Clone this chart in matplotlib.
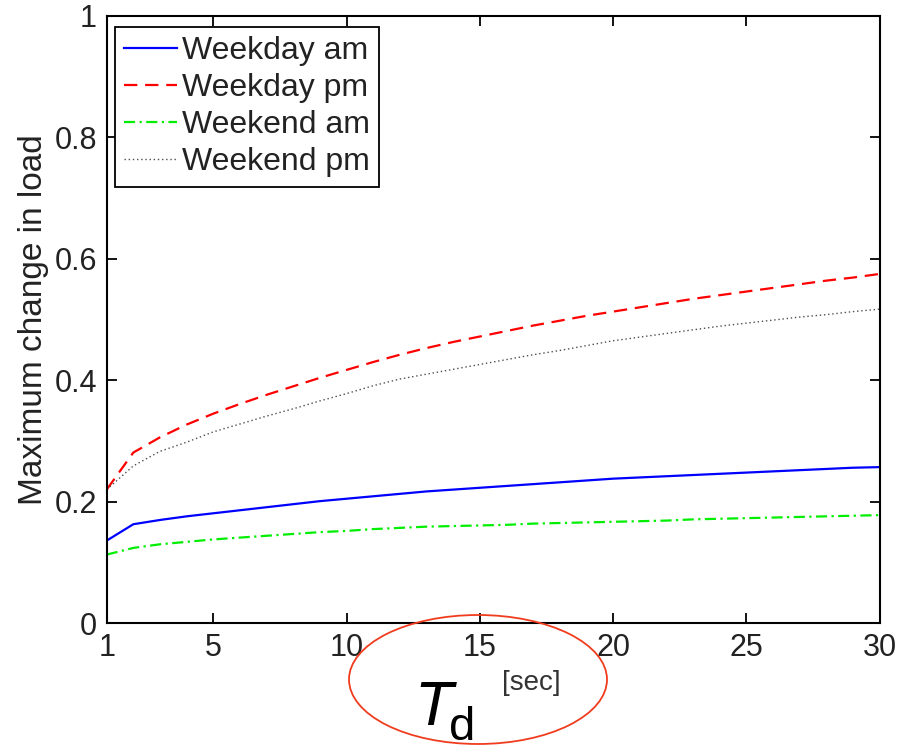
import numpy as np
import matplotlib
matplotlib.use('Agg')
import matplotlib.pyplot as plt
from matplotlib.patches import Ellipse

plt.rcParams['font.family'] = ['Liberation Sans', 'DejaVu Sans']

# detection time window [sec]
td = list(range(1, 31))

weekday_am = [0.136, 0.163, 0.170, 0.176, 0.181, 0.186, 0.191, 0.196, 0.201, 0.205,
              0.209, 0.213, 0.217, 0.220, 0.223, 0.226, 0.229, 0.232, 0.235, 0.238,
              0.240, 0.242, 0.244, 0.246, 0.248, 0.250, 0.252, 0.254, 0.256, 0.257]
weekday_pm = [0.220, 0.281, 0.306, 0.327, 0.345, 0.361, 0.376, 0.390, 0.404, 0.417,
              0.430, 0.442, 0.453, 0.463, 0.472, 0.481, 0.490, 0.498, 0.506, 0.513,
              0.520, 0.527, 0.534, 0.540, 0.546, 0.552, 0.558, 0.564, 0.569, 0.575]
weekend_am = [0.113, 0.124, 0.130, 0.134, 0.138, 0.141, 0.144, 0.147, 0.150, 0.152,
              0.155, 0.157, 0.159, 0.160, 0.161, 0.162, 0.164, 0.165, 0.166, 0.167,
              0.168, 0.169, 0.171, 0.172, 0.173, 0.174, 0.175, 0.176, 0.177, 0.178]
weekend_pm = [0.220, 0.259, 0.283, 0.298, 0.315, 0.328, 0.341, 0.353, 0.366, 0.378,
              0.391, 0.402, 0.410, 0.418, 0.426, 0.434, 0.442, 0.449, 0.457, 0.465,
              0.471, 0.477, 0.483, 0.489, 0.494, 0.499, 0.504, 0.508, 0.513, 0.517]

xticks = [1, 5, 10, 15, 20, 25, 30]
yticks = [0, 0.2, 0.4, 0.6, 0.8, 1]
ytick_labels = ['0', '0.2', '0.4', '0.6', '0.8', '1']

TICK_SIZE = 22

fig = plt.figure(figsize=(9.04, 7.5), dpi=100)
ax = fig.add_axes([0.118, 0.169, 0.855, 0.810])

ax.plot(td, weekday_am, color='#0000ff', lw=1.6, ls='-', label='Weekday am')
ax.plot(td, weekday_pm, color='#ff0000', lw=1.6, ls=(0, (6, 3.5)), label='Weekday pm')
ax.plot(td, weekend_am, color='#00ee00', lw=1.6, ls=(0, (5, 2, 1, 2)), label='Weekend am')
ax.plot(td, weekend_pm, color='0.3', lw=1.0, ls=(0, (1, 2)), label='Weekend pm')

ax.set_xlim(1, 30)
ax.set_ylim(0, 1)
ax.set_xticks(xticks)
ax.set_yticks(yticks)
ax.set_yticklabels(ytick_labels)
ax.tick_params(direction='in', length=7, width=1.3, labelsize=TICK_SIZE,
               top=True, right=True, pad=7, colors='black', labelcolor='#222222')
for sp in ax.spines.values():
    sp.set_linewidth(1.5)

ax.set_ylabel('Maximum change in load', fontsize=24, labelpad=4, color='#222222')

leg = ax.legend(loc='upper left', bbox_to_anchor=(0.0103, 0.982), borderaxespad=0,
                fontsize=23, fancybox=False, framealpha=1, edgecolor='black',
                handlelength=1.65, handletextpad=0.15, labelspacing=0.22,
                borderpad=0.3)
leg.get_frame().set_linewidth(1.3)
for t in leg.get_texts():
    t.set_color('#222222')

# x-axis label: T_d [sec], circled
fig.text(0.458, 1 - 725 / 750, 'T', fontsize=45, style='italic', ha='left', va='baseline')
fig.text(0.497, 1 - 740 / 750, 'd', fontsize=34, ha='left', va='baseline')
fig.text(0.555, 1 - 690 / 750, '[sec]', fontsize=20, ha='left', va='baseline', color='#333333')

ring = Ellipse((478 / 904, 1 - 679.5 / 750), 258 / 904, 129 / 750,
               transform=fig.transFigure, fill=False, edgecolor='#f03c1e', lw=1.3)
fig.add_artist(ring)

fig.savefig('out.png', dpi=100)
